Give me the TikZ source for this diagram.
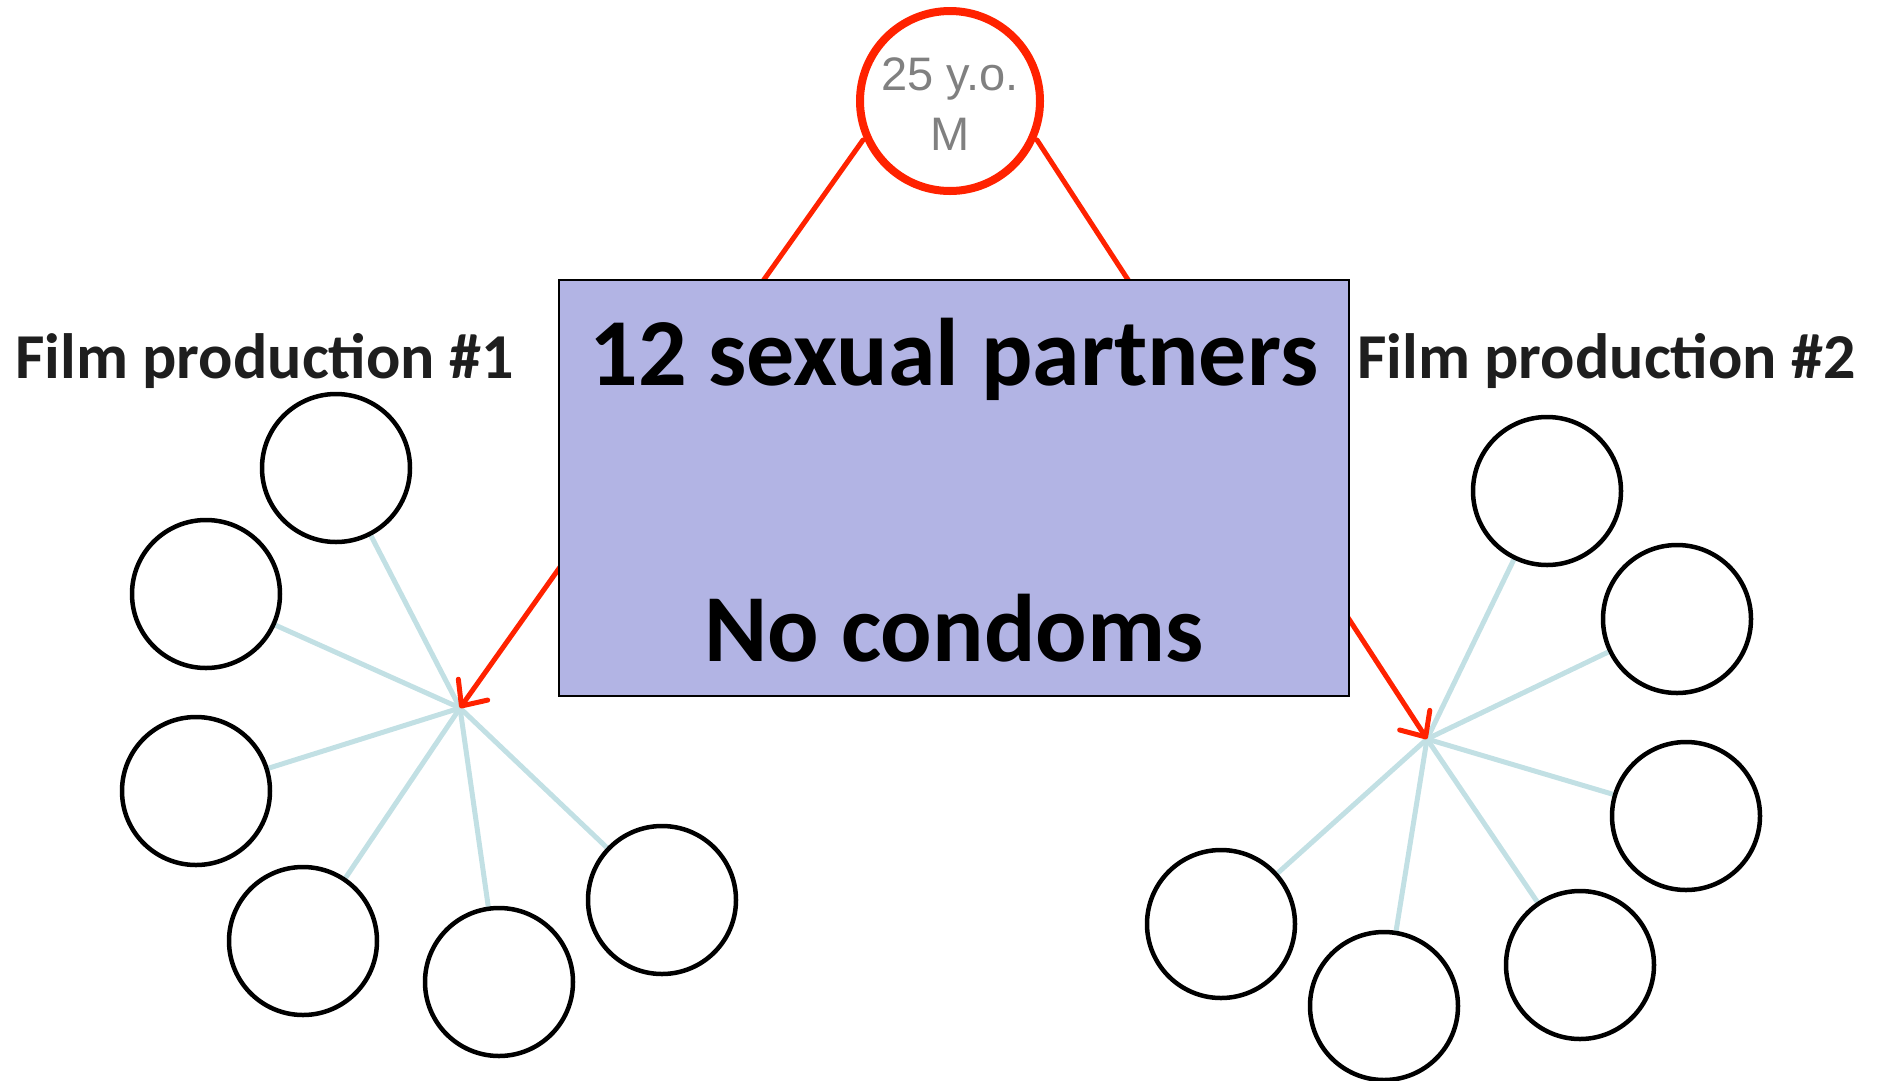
\documentclass[tikz,border=0pt]{standalone}
\usepackage{fontspec}
\setmainfont{Carlito}
\newfontfamily\helv{Liberation Sans}
\usetikzlibrary{arrows.meta,backgrounds}
\definecolor{redline}{HTML}{FF2200}
\definecolor{boxfill}{HTML}{B2B4E4}
\definecolor{spoke}{HTML}{C2E0E4}
\definecolor{txtgray}{HTML}{808080}
\definecolor{txtdark}{HTML}{1E1E1E}
\tikzset{
  partner/.style={circle, draw=black, line width=4.5pt, fill=white, minimum size=148pt, inner sep=0pt},
  spokeline/.style={draw=spoke, line width=5pt},
  redconn/.style={draw=redline, line width=5pt, line cap=round},
  redarrow/.style={redconn, -{Straight Barb[length=20pt,width=36pt,round]}},
  bigtxt/.style={font=\bfseries\fontsize{96}{96}\selectfont, text=black, anchor=base, inner sep=0pt},
  labtxt/.style={font=\bfseries\fontsize{64}{64}\selectfont, text=txtdark, anchor=base west, inner sep=0pt},
  graytxt/.style={font=\helv\fontsize{47}{47}\selectfont, text=txtgray, anchor=base, inner sep=0pt},
}
\begin{document}
\begin{tikzpicture}[x=1pt,y=-1pt]
\useasboundingbox (0,0) rectangle (1877,1080);
% hubs
\coordinate (hubA) at (460,708);
\coordinate (hubB) at (1427,739);
% partner circles
\node[partner] (a1) at (336,468) {};
\node[partner] (a2) at (206,594) {};
\node[partner] (a3) at (196,791) {};
\node[partner] (a4) at (303,941) {};
\node[partner] (a5) at (499,982) {};
\node[partner] (a6) at (662,900) {};
\node[partner] (b1) at (1547,491) {};
\node[partner] (b2) at (1677,619) {};
\node[partner] (b3) at (1686,816) {};
\node[partner] (b4) at (1580,965) {};
\node[partner] (b5) at (1384,1006) {};
\node[partner] (b6) at (1221,924) {};
% spokes
\begin{scope}[on background layer]
\foreach \n in {a1,a2,a3,a4,a5,a6} \draw[spokeline] (hubA) -- (\n);
\foreach \n in {b1,b2,b3,b4,b5,b6} \draw[spokeline] (hubB) -- (\n);
\end{scope}
% top person
\node[circle, draw=redline, line width=8pt, fill=white, minimum size=180pt, inner sep=0pt] (top) at (950,101) {};
\node[graytxt] (t1) at (950,90) {25 y.o.};
\node[graytxt] (t2) at (950,150) {M};
% red connectors
\coordinate (startA) at (863,140);
\coordinate (startB) at (1037,140);
\draw[redarrow] (startA) -- (hubA);
\draw[redarrow] (startB) -- (hubB);
% box
\node[draw=black, line width=2pt, fill=boxfill, anchor=north west, minimum width=790pt, minimum height=416pt, inner sep=0pt] (box) at (558,279) {};
\node[bigtxt] (bt1) at (954,385) {12 sexual partners};
\node[bigtxt] (bt2) at (954,661) {No condoms};
% labels
\node[labtxt] (l1) at (15,378) {Film production \#1};
\node[labtxt] (l2) at (1357,378) {Film production \#2};
\end{tikzpicture}
\end{document}
